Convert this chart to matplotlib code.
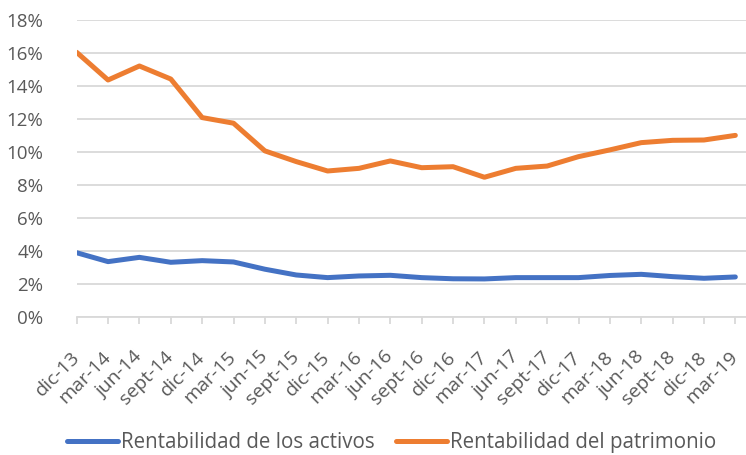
import matplotlib.pyplot as plt
from matplotlib.ticker import FuncFormatter

plt.rcParams['font.family'] = ['Open Sans', 'DejaVu Sans']

periodos = ["dic-13", "mar-14", "jun-14", "sept-14", "dic-14", "mar-15", "jun-15",
            "sept-15", "dic-15", "mar-16", "jun-16", "sept-16", "dic-16", "mar-17",
            "jun-17", "sept-17", "dic-17", "mar-18", "jun-18", "sept-18", "dic-18",
            "mar-19"]

roa = [3.88, 3.34, 3.60, 3.30, 3.40, 3.32, 2.88, 2.53, 2.37, 2.47, 2.51,
       2.37, 2.30, 2.29, 2.37, 2.37, 2.37, 2.50, 2.57, 2.43, 2.33, 2.41]

roe = [16.04, 14.36, 15.21, 14.42, 12.08, 11.74, 10.06, 9.41, 8.84, 9.00, 9.45,
       9.04, 9.10, 8.46, 9.00, 9.14, 9.71, 10.12, 10.56, 10.70, 10.72, 11.00]

grey_txt = "#595959"
grid_col = "#d9d9d9"

fig = plt.figure(figsize=(7.46, 4.55), dpi=100)
ax = fig.add_axes([0.1028, 0.304, 0.8972, 0.652])

x = range(len(periodos))
ax.plot(x, roa, color="#4472C4", linewidth=3.6, solid_capstyle="round",
        solid_joinstyle="round", label="Rentabilidad de los activos", zorder=3)
ax.plot(x, roe, color="#ED7D31", linewidth=3.6, solid_capstyle="round",
        solid_joinstyle="round", label="Rentabilidad del patrimonio", zorder=3)

ax.set_ylim(0, 18)
ax.set_xlim(0, len(periodos) - 1 + 0.34)
ax.set_yticks(range(0, 19, 2))
ax.yaxis.set_major_formatter(FuncFormatter(lambda v, _: f"{v:.0f}%"))
ax.set_xticks(list(x))
ax.set_xticklabels(periodos, rotation=45, ha="right", va="center",
                   rotation_mode="anchor")

ax.grid(axis="y", color=grid_col, linewidth=1.3)
ax.set_axisbelow(True)
for s in ("top", "right", "left"):
    ax.spines[s].set_visible(False)
ax.spines["bottom"].set_color(grid_col)
ax.spines["bottom"].set_linewidth(1.3)

ax.tick_params(axis="y", length=0, labelsize=13.5, labelcolor=grey_txt, pad=24)
ax.tick_params(axis="x", length=5, width=1.3, color=grid_col, direction="out",
               labelsize=14, labelcolor=grey_txt, pad=22)

fig.legend(loc="lower center", bbox_to_anchor=(0.525, -0.036), ncol=2,
           frameon=False, fontsize=14.8, labelcolor=grey_txt, handlelength=2.5,
           handletextpad=0.15, columnspacing=1.0)

fig.savefig("out.png", dpi=100)
